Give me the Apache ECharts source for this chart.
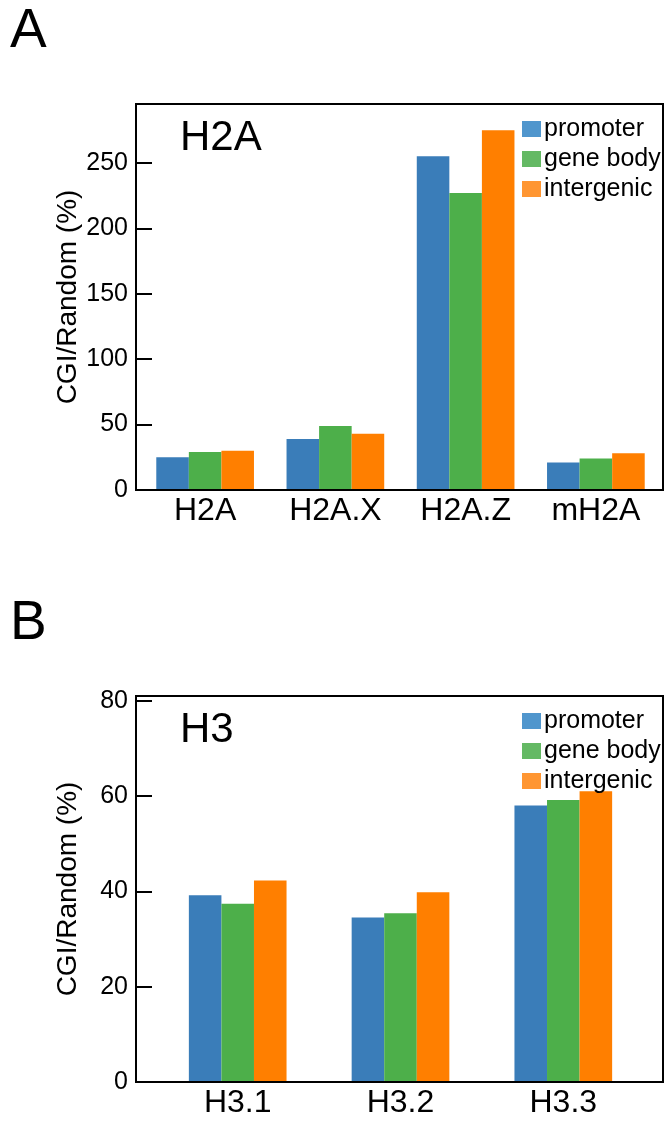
<!DOCTYPE html>
<html>
<head>
<meta charset="utf-8">
<script src="https://cdn.jsdelivr.net/npm/echarts@6/dist/echarts.min.js"></script>
<style>
html,body{margin:0;padding:0;background:#fff;}
#chart{width:672px;height:1126px;}
</style>
</head>
<body>
<div id="chart"></div>
<script>
// ---- data ----
const seriesNames = ['promoter', 'gene body', 'intergenic'];
const categoriesA = ['H2A', 'H2A.X', 'H2A.Z', 'mH2A'];
const promoterA = [25, 39, 255, 21];
const geneBodyA = [29, 49, 227, 24];
const intergenicA = [30, 43, 275, 28];
const categoriesB = ['H3.1', 'H3.2', 'H3.3'];
const promoterB = [39.2, 34.5, 58.0];
const geneBodyB = [37.4, 35.4, 59.2];
const intergenicB = [42.3, 39.8, 61.0];
const ticksA = { min: 0, max: 295, interval: 50 };
const ticksB = { min: 0, max: 81, interval: 20 };

// ---- styles ----
const FONT = '"Liberation Sans", Arial, Helvetica, sans-serif';
const barColors = ['#3a7db9', '#4daf4a', '#ff7f00'];
const legendColors = ['#5096cd', '#64b964', '#ff9632'];
const OFF = 592;

const chart = echarts.init(document.getElementById('chart'), null, { renderer: 'canvas' });

function frameX(gi) {
  return { type: 'value', gridIndex: gi, min: 0, max: 1, z: 10,
    axisLine: { show: true, onZero: false, lineStyle: { color: '#000', width: 2 } },
    axisTick: { show: false }, axisLabel: { show: false }, splitLine: { show: false } };
}
function frameY(gi, t, name) {
  return { type: 'value', gridIndex: gi, min: t.min, max: t.max, interval: t.interval, z: 10,
    name: name, nameLocation: 'middle', nameGap: 54, nameRotate: 90, nameMoveOverlap: false,
    nameTextStyle: { fontFamily: FONT, fontSize: 28, color: '#000' },
    axisLine: { show: true, lineStyle: { color: '#000', width: 2 } },
    axisTick: { show: true, inside: true, length: 16, lineStyle: { color: '#000', width: 2 } },
    axisLabel: { show: true, margin: 8, fontFamily: FONT, fontSize: 25, color: '#000', showMaxLabel: false },
    splitLine: { show: false } };
}
function innerX(gi, cats) {
  return { type: 'category', gridIndex: gi, data: cats,
    axisLine: { show: false }, axisTick: { show: false },
    axisLabel: { margin: 5, fontFamily: FONT, fontSize: 32, color: '#000', interval: 0 } };
}
function innerY(gi, t) {
  return { type: 'value', gridIndex: gi, min: t.min, max: t.max, show: false };
}
function bars(xi, yi, arrs, gap) {
  return arrs.map((d, i) => ({
    type: 'bar', name: seriesNames[i], xAxisIndex: xi, yAxisIndex: yi, data: d,
    barGap: '0%', barCategoryGap: gap,
    itemStyle: { color: barColors[i] }, emphasis: { disabled: true }
  }));
}
function legend(top) {
  return { left: 517, top: top, orient: 'vertical', itemGap: 0, itemWidth: 19, itemHeight: 16,
    icon: 'rect', selectedMode: false,
    textStyle: { fontFamily: FONT, fontSize: 25, color: '#000', lineHeight: 30, padding: [0, 0, 0, -2] },
    data: seriesNames.map((n, i) => ({ name: n, itemStyle: { color: legendColors[i] } })) };
}

const option = {
  animation: false,
  backgroundColor: '#fff',
  title: [
    { text: 'A', left: 5, top: -1, textStyle: { fontFamily: FONT, fontSize: 55, fontWeight: 'normal', color: '#000' } },
    { text: 'B', left: 5, top: -1 + OFF, textStyle: { fontFamily: FONT, fontSize: 55, fontWeight: 'normal', color: '#000' } },
    { text: 'H2A', left: 175, top: 112, textStyle: { fontFamily: FONT, fontSize: 42, fontWeight: 'normal', color: '#000' } },
    { text: 'H3', left: 175, top: 112 + OFF, textStyle: { fontFamily: FONT, fontSize: 42, fontWeight: 'normal', color: '#000' } }
  ],
  legend: [legend(109), legend(109 + OFF)],
  grid: [
    { left: 136, top: 104, width: 527, height: 386, show: true, borderColor: '#000', borderWidth: 2, backgroundColor: 'transparent' },
    { left: 140, top: 104, width: 521, height: 386 },
    { left: 136, top: 104 + OFF, width: 527, height: 386, show: true, borderColor: '#000', borderWidth: 2, backgroundColor: 'transparent' },
    { left: 156.3, top: 104 + OFF, width: 488.4, height: 386 }
  ],
  xAxis: [frameX(0), innerX(1, categoriesA), frameX(2), innerX(3, categoriesB)],
  yAxis: [frameY(0, ticksA, 'CGI/Random (%)'), innerY(1, ticksA), frameY(2, ticksB, 'CGI/Random (%)'), innerY(3, ticksB)],
  series: [].concat(
    bars(1, 1, [promoterA, geneBodyA, intergenicA], '25%'),
    bars(3, 3, [promoterB, geneBodyB, intergenicB], '40%')
  )
};
chart.setOption(option);
</script>
</body>
</html>
